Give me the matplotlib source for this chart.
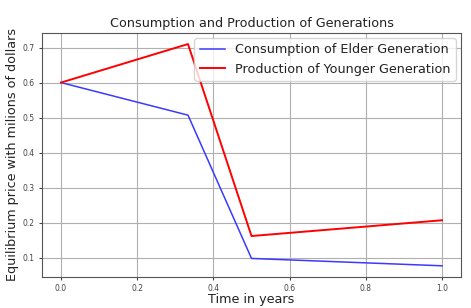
import matplotlib
matplotlib.use("Agg")
import matplotlib.pyplot as plt

time = [0.0, 1/3, 0.5, 1.0]
elder = [0.6, 0.507, 0.098, 0.077]
younger = [0.6, 0.71, 0.162, 0.207]

fig = plt.figure(figsize=(4.71, 3.08), dpi=100)
ax = fig.add_axes([0.089, 0.101, 0.890, 0.792])

ax.plot(time, elder, color="#3a3aff", lw=1.1, label="Consumption of Elder Generation")
ax.plot(time, younger, color="red", lw=1.4, label="Production of Younger Generation")

ax.grid(True, color="#b0b0b0", lw=0.8)
ax.tick_params(labelsize=5.5, colors="#444444", length=2.5, pad=2.5)
for s in ax.spines.values():
    s.set_color("#555555")

ax.set_title("Consumption and Production of Generations", fontsize=9.2, pad=4, color="#222222")
ax.set_xlabel("Time in years", fontsize=9.2, labelpad=0, color="#222222")
ax.set_ylabel("Equilibrium price with milions of dollars", fontsize=9.2, labelpad=3, color="#222222")
leg = ax.legend(fontsize=9.2, loc="upper right", handlelength=2.0, borderpad=0.4,
                labelspacing=0.5, borderaxespad=0.4)
for t in leg.get_texts():
    t.set_color("#222222")

fig.savefig("out.png", dpi=100)
